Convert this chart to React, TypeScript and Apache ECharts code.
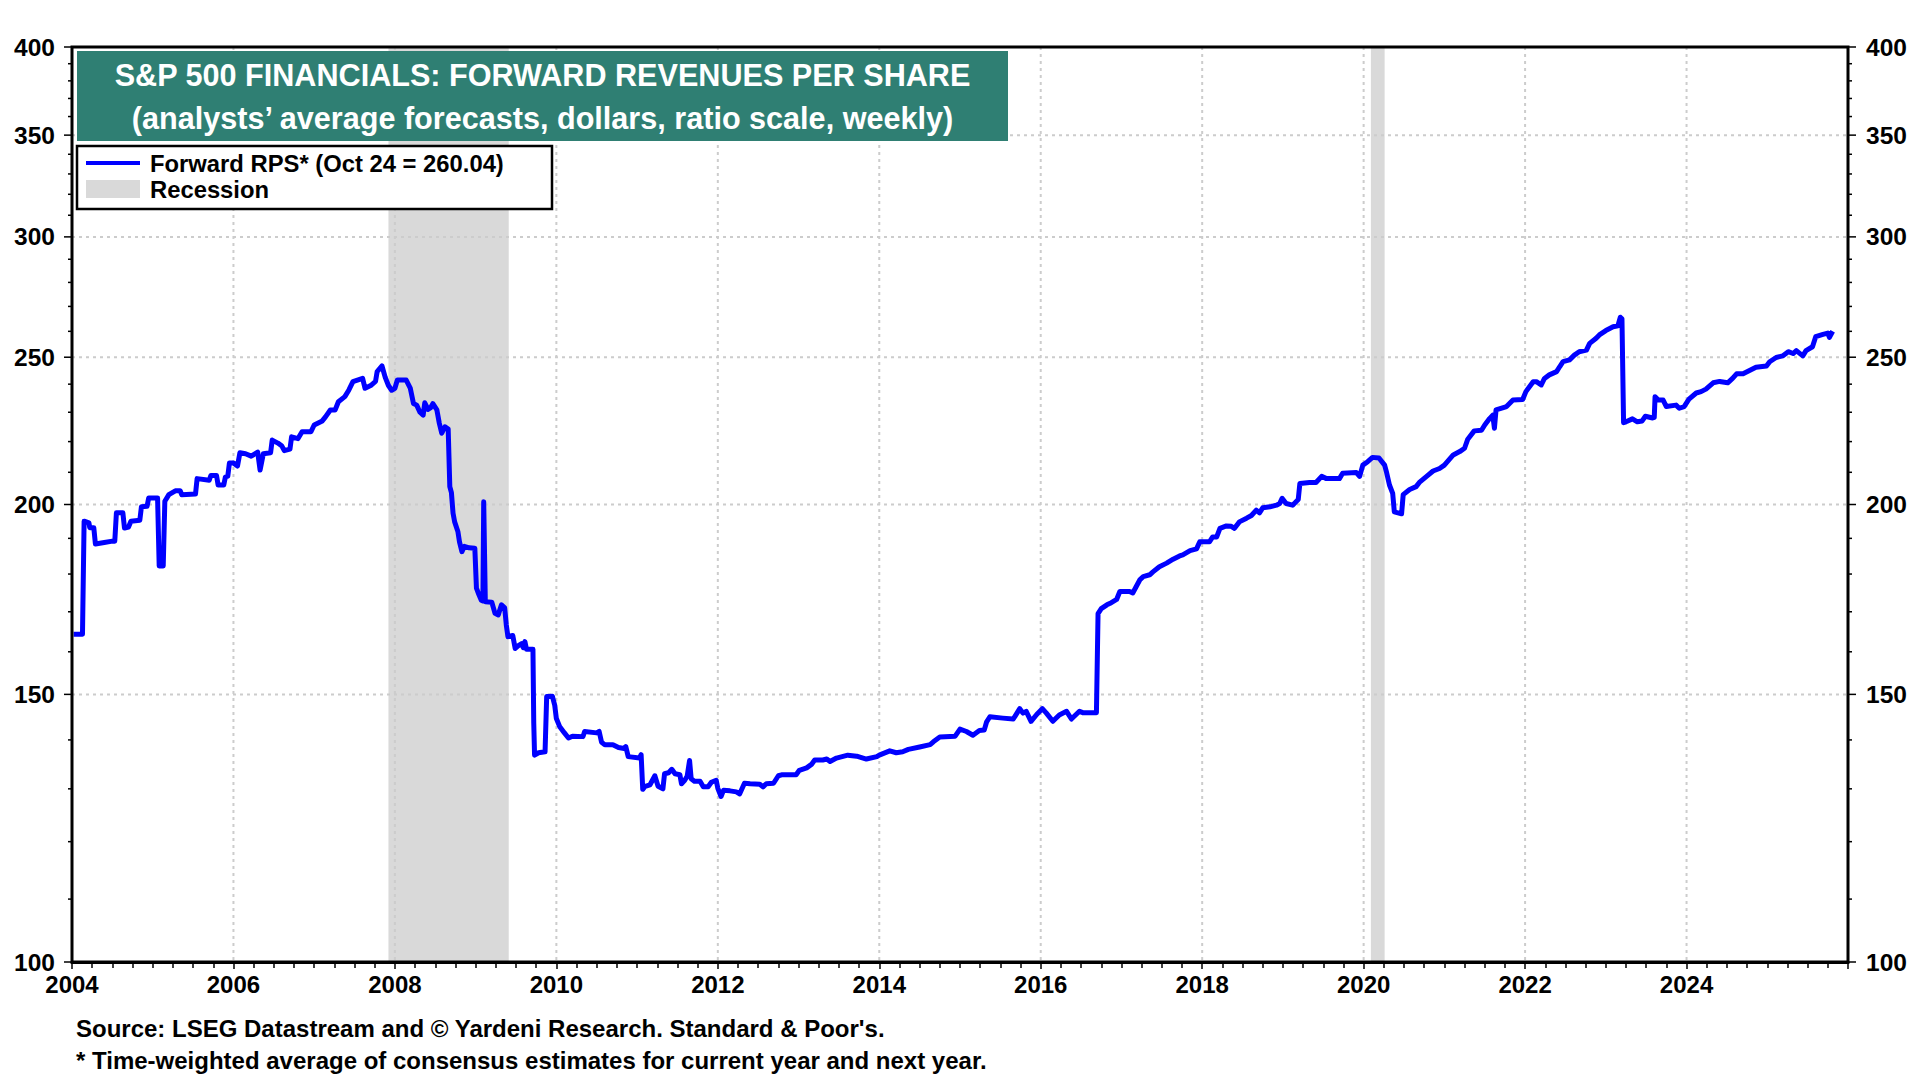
import React, { useEffect, useRef } from "react";
import * as echarts from "echarts";

// ---------- data (x = decimal year of the weekly observation, y = forward RPS in dollars) ----------
const rps2004to2007: [number, number][] = [
  [2004.02, 164.3], [2004.13, 164.3], [2004.15, 195.0], [2004.21, 194.5], [2004.22, 193.1], [2004.27, 193.1],
  [2004.29, 188.4], [2004.4, 188.8], [2004.5, 189.2], [2004.53, 189.2], [2004.55, 197.5], [2004.63, 197.5],
  [2004.65, 193.0], [2004.7, 193.3], [2004.73, 195.0], [2004.84, 195.3], [2004.86, 199.3], [2004.93, 199.5],
  [2004.95, 202.0], [2005.06, 202.0], [2005.08, 182.2], [2005.13, 182.2], [2005.15, 201.0], [2005.2, 203.0],
  [2005.28, 204.2], [2005.34, 204.2], [2005.36, 203.0], [2005.53, 203.2], [2005.55, 208.0], [2005.7, 207.5],
  [2005.72, 209.0], [2005.79, 209.0], [2005.81, 206.0], [2005.88, 206.0], [2005.9, 208.5], [2005.93, 208.8],
  [2005.95, 213.0], [2006.0, 213.0], [2006.05, 212.0], [2006.08, 216.3], [2006.15, 216.0], [2006.22, 215.2],
  [2006.3, 216.5], [2006.33, 210.7], [2006.37, 216.0], [2006.46, 216.3], [2006.48, 220.5], [2006.55, 219.5],
  [2006.6, 218.5], [2006.63, 217.0], [2006.7, 217.5], [2006.72, 221.6], [2006.8, 221.0], [2006.85, 223.3],
  [2006.96, 223.3], [2007.0, 225.6], [2007.1, 227.0], [2007.14, 228.4], [2007.2, 230.8], [2007.26, 230.8],
  [2007.3, 233.7], [2007.38, 235.5], [2007.43, 237.9], [2007.48, 240.9], [2007.6, 242.1], [2007.63, 238.5],
  [2007.7, 239.5], [2007.76, 241.0], [2007.78, 244.6], [2007.84, 246.7], [2007.88, 242.5],
];

const rps2008to2010: [number, number][] = [
  [2007.92, 239.5], [2007.96, 237.8], [2008.0, 238.5], [2008.03, 241.5], [2008.14, 241.5], [2008.19, 238.6],
  [2008.23, 233.1], [2008.27, 232.5], [2008.31, 230.0], [2008.35, 229.0], [2008.37, 233.3], [2008.41, 231.0],
  [2008.44, 231.5], [2008.47, 233.0], [2008.52, 230.8], [2008.55, 226.2], [2008.58, 222.8], [2008.62, 225.0],
  [2008.66, 224.2], [2008.68, 205.5], [2008.7, 203.6], [2008.72, 197.4], [2008.74, 194.8], [2008.78, 192.0],
  [2008.8, 189.0], [2008.83, 186.2], [2008.86, 187.7], [2008.92, 187.3], [2008.99, 187.2], [2009.01, 176.2],
  [2009.04, 174.5], [2009.07, 173.0], [2009.09, 172.8], [2009.1, 200.8], [2009.12, 172.6], [2009.2, 172.5],
  [2009.24, 169.6], [2009.28, 169.2], [2009.32, 171.8], [2009.36, 171.0], [2009.38, 166.6], [2009.4, 163.7],
  [2009.46, 164.0], [2009.49, 160.8], [2009.53, 161.5], [2009.57, 162.0], [2009.59, 161.0], [2009.61, 162.5],
  [2009.63, 160.6], [2009.71, 160.6], [2009.72, 143.6], [2009.73, 136.8], [2009.78, 137.3], [2009.86, 137.5],
  [2009.88, 149.5], [2009.95, 149.6], [2009.98, 147.5], [2010.0, 144.6], [2010.04, 142.9], [2010.1, 141.5],
  [2010.15, 140.4], [2010.2, 140.8], [2010.33, 140.7], [2010.35, 141.8], [2010.5, 141.5], [2010.53, 141.8],
  [2010.56, 139.5], [2010.6, 139.0], [2010.7, 139.0], [2010.77, 138.4], [2010.84, 138.2], [2010.86, 138.6],
  [2010.89, 136.5], [2011.03, 136.2], [2011.05, 136.9],
];

const rps2011to2016: [number, number][] = [
  [2011.07, 129.9], [2011.1, 130.5], [2011.16, 130.8], [2011.22, 132.6], [2011.26, 130.5], [2011.32, 130.0],
  [2011.34, 133.0], [2011.39, 133.2], [2011.43, 133.9], [2011.47, 133.0], [2011.53, 132.8], [2011.55, 131.0],
  [2011.59, 131.7], [2011.62, 132.5], [2011.65, 135.7], [2011.67, 132.0], [2011.71, 131.5], [2011.78, 131.5],
  [2011.82, 130.4], [2011.88, 130.4], [2011.92, 131.3], [2011.98, 131.7], [2012.0, 130.1], [2012.04, 128.5],
  [2012.07, 129.7], [2012.15, 129.6], [2012.23, 129.4], [2012.27, 129.0], [2012.33, 131.1], [2012.4, 131.0],
  [2012.52, 130.9], [2012.56, 130.4], [2012.6, 131.0], [2012.69, 131.1], [2012.75, 132.6], [2012.79, 132.8],
  [2012.97, 132.8], [2013.01, 133.7], [2013.1, 134.2], [2013.16, 134.9], [2013.2, 135.8], [2013.3, 135.8],
  [2013.35, 136.0], [2013.39, 135.5], [2013.47, 136.2], [2013.61, 136.8], [2013.72, 136.6], [2013.84, 136.0],
  [2013.97, 136.5], [2014.0, 136.8], [2014.13, 137.7], [2014.21, 137.3], [2014.29, 137.5], [2014.36, 138.0],
  [2014.5, 138.5], [2014.63, 139.0], [2014.67, 139.6], [2014.75, 140.6], [2014.94, 140.8], [2015.0, 142.3],
  [2015.08, 141.8], [2015.16, 141.0], [2015.24, 142.0], [2015.3, 142.1], [2015.33, 143.9], [2015.37, 145.0],
  [2015.53, 144.7], [2015.66, 144.5], [2015.74, 146.8], [2015.78, 145.8], [2015.82, 146.2], [2015.88, 144.0],
  [2015.95, 145.5], [2016.02, 146.8], [2016.07, 145.8], [2016.15, 144.0], [2016.23, 145.4], [2016.32, 146.2],
  [2016.38, 144.5], [2016.48, 146.2], [2016.52, 145.9], [2016.69, 145.9],
];

const rps2016to2020: [number, number][] = [
  [2016.71, 169.5], [2016.75, 170.8], [2016.82, 171.8], [2016.86, 172.2], [2016.94, 173.2], [2016.98, 175.3],
  [2017.1, 175.3], [2017.14, 174.9], [2017.18, 176.5], [2017.23, 178.5], [2017.27, 179.3], [2017.35, 179.8],
  [2017.39, 180.6], [2017.47, 182.0], [2017.56, 183.0], [2017.64, 184.1], [2017.72, 185.0], [2017.76, 185.3],
  [2017.85, 186.5], [2017.93, 187.0], [2017.97, 189.0], [2018.09, 189.0], [2018.13, 190.4], [2018.18, 190.4],
  [2018.22, 192.9], [2018.3, 193.6], [2018.36, 193.5], [2018.4, 192.9], [2018.46, 194.8], [2018.55, 195.9],
  [2018.61, 196.7], [2018.67, 198.3], [2018.71, 197.5], [2018.75, 199.0], [2018.84, 199.3], [2018.92, 199.8],
  [2018.96, 200.3], [2018.99, 201.9], [2019.04, 200.3], [2019.12, 199.8], [2019.19, 201.5], [2019.21, 206.5],
  [2019.33, 206.8], [2019.41, 206.8], [2019.48, 208.7], [2019.54, 208.0], [2019.7, 208.0], [2019.74, 209.7],
  [2019.91, 209.9], [2019.95, 208.7], [2019.99, 212.3], [2020.05, 213.4], [2020.11, 214.8], [2020.19, 214.6],
  [2020.26, 212.3], [2020.28, 210.4], [2020.32, 206.0], [2020.36, 203.4], [2020.38, 197.8], [2020.47, 197.2],
  [2020.49, 203.0],
];

const rps2020to2025: [number, number][] = [
  [2020.57, 204.6], [2020.65, 205.5], [2020.69, 206.8], [2020.78, 208.7], [2020.86, 210.4], [2020.94, 211.2],
  [2021.0, 212.3], [2021.11, 215.6], [2021.19, 216.7], [2021.25, 217.8], [2021.29, 220.8], [2021.37, 223.6],
  [2021.46, 223.8], [2021.5, 225.6], [2021.56, 227.8], [2021.6, 229.0], [2021.62, 224.5], [2021.64, 230.8],
  [2021.77, 232.0], [2021.85, 234.3], [2021.97, 234.5], [2022.01, 237.3], [2022.1, 240.9], [2022.14, 240.9],
  [2022.2, 239.7], [2022.24, 242.1], [2022.3, 243.4], [2022.39, 244.6], [2022.43, 246.5], [2022.47, 248.3],
  [2022.55, 249.0], [2022.61, 250.8], [2022.67, 252.1], [2022.76, 252.7], [2022.8, 255.3], [2022.88, 257.3],
  [2022.92, 258.6], [2023.0, 260.3], [2023.09, 261.8], [2023.15, 262.2], [2023.18, 265.6], [2023.2, 265.0],
  [2023.22, 226.4], [2023.25, 226.7], [2023.33, 227.7], [2023.39, 226.7], [2023.45, 227.0], [2023.49, 228.6],
  [2023.58, 228.0], [2023.6, 228.2], [2023.61, 235.5], [2023.65, 234.3], [2023.71, 234.3], [2023.75, 232.0],
  [2023.87, 232.5], [2023.91, 231.4], [2023.97, 232.0], [2024.03, 234.6], [2024.12, 236.8], [2024.18, 237.3],
  [2024.24, 238.2], [2024.33, 240.5], [2024.41, 241.0], [2024.51, 240.5], [2024.57, 242.1], [2024.62, 243.8],
  [2024.7, 243.8], [2024.78, 245.0], [2024.86, 246.2], [2024.99, 246.7], [2025.03, 248.3], [2025.11, 249.9],
  [2025.19, 250.5], [2025.26, 252.1], [2025.32, 251.4], [2025.36, 252.5], [2025.44, 250.5], [2025.48, 252.5],
  [2025.56, 254.0], [2025.6, 257.9], [2025.69, 258.8], [2025.75, 259.3], [2025.77, 257.6], [2025.81, 260.04],
];

const recessions: [number, number][] = [
  [2007.92, 2009.41],
  [2020.09, 2020.26],
];

const yTickValues: number[] = [100, 110, 120, 130, 140, 150, 160, 170, 180, 190, 200, 210, 220, 230, 240, 250,
  260, 270, 280, 290, 300, 310, 320, 330, 340, 350, 360, 370, 380, 390, 400];
const yLabelValues: number[] = [100, 150, 200, 250, 300, 350, 400];
const yGridValues: number[] = [150, 200, 250, 300, 350];
const xGridYears: number[] = [2006, 2008, 2010, 2012, 2014, 2016, 2018, 2020, 2022, 2024];

const X_MIN = 2004;
const X_MAX = 2026;
const Y_MIN = 100;
const Y_MAX = 400;

const TITLE_1 = "S&P 500 FINANCIALS: FORWARD REVENUES PER SHARE";
const TITLE_2 = "(analysts\u2019 average forecasts, dollars, ratio scale, weekly)";
const LEGEND_LINE = "Forward RPS* (Oct 24 = 260.04)";
const LEGEND_RECESSION = "Recession";
const SOURCE_1 = "Source: LSEG Datastream and \u00A9 Yardeni Research. Standard & Poor's.";
const SOURCE_2 = "* Time-weighted average of consensus estimates for current year and next year.";

const FAMILY = '"Liberation Sans", Arial, Helvetica, sans-serif';
const font = (size: number) => `bold ${size}px ${FAMILY}`;

const GRID_COLOR = "#cccccc";
const RECESSION_COLOR = "#d9d9d9";
const LINE_COLOR = "#0000ff";
const TEAL = "#2f7f73";

export default function App() {
  const ref = useRef<HTMLDivElement>(null);

  useEffect(() => {
    if (!ref.current) return;
    const chart = echarts.init(ref.current, undefined, { renderer: "svg" });

    const series = [
      ...rps2004to2007,
      ...rps2008to2010,
      ...rps2011to2016,
      ...rps2016to2020,
      ...rps2020to2025,
    ];

    const option: any = {
      animation: false,
      backgroundColor: "#ffffff",
      grid: {
        left: 72,
        right: 72,
        top: 47,
        bottom: 118,
        show: true,
        borderColor: "#000",
        borderWidth: 3,
        backgroundColor: "transparent",
        z: 10,
      },
      xAxis: {
        type: "value",
        min: X_MIN,
        max: X_MAX,
        interval: 2,
        axisLine: { show: true, lineStyle: { color: "#000", width: 3 } },
        axisTick: { show: true, length: 7, lineStyle: { color: "#000", width: 1.5 } },
        minorTick: { show: true, splitNumber: 8, length: 6, lineStyle: { color: "#000", width: 1.5 } },
        splitLine: { show: false },
        minorSplitLine: { show: false },
        axisLabel: {
          show: true,
          margin: 10,
          showMinLabel: true,
          showMaxLabel: true,
          color: "#000",
          fontFamily: FAMILY,
          fontWeight: "bold",
          fontSize: 24,
          formatter: (v: number) => (v === X_MAX ? "" : String(v)),
        },
      },
      yAxis: {
        type: "log",
        logBase: 10,
        min: Y_MIN,
        max: Y_MAX,
        axisLine: { show: false },
        axisTick: { show: false },
        axisLabel: { show: false },
        splitLine: { show: false },
      },
      series: [
        {
          name: "Recession",
          type: "custom",
          z: 1,
          silent: true,
          data: recessions.map((r) => [r[0], r[1], Y_MIN]),
          encode: { x: [0, 1], y: 2 },
          renderItem: (params: any, api: any) => {
            const a = api.coord([api.value(0), Y_MAX]);
            const b = api.coord([api.value(1), Y_MIN]);
            return {
              type: "rect",
              shape: { x: a[0], y: a[1], width: b[0] - a[0], height: b[1] - a[1] },
              style: { fill: RECESSION_COLOR },
            };
          },
        },
        {
          name: "xgrid",
          type: "custom",
          z: 2,
          silent: true,
          data: xGridYears.map((y) => [y, Y_MIN]),
          renderItem: (params: any, api: any) => {
            const a = api.coord([api.value(0), Y_MAX]);
            const b = api.coord([api.value(0), Y_MIN]);
            return {
              type: "line",
              shape: { x1: a[0], y1: a[1], x2: b[0], y2: b[1] },
              style: { stroke: GRID_COLOR, lineWidth: 2, lineDash: [3, 4] },
            };
          },
        },
        {
          name: "ygrid",
          type: "custom",
          z: 2,
          silent: true,
          data: yGridValues.map((v) => [X_MIN, v]),
          renderItem: (params: any, api: any) => {
            const a = api.coord([X_MIN, api.value(1)]);
            const b = api.coord([X_MAX, api.value(1)]);
            return {
              type: "line",
              shape: { x1: a[0], y1: a[1], x2: b[0], y2: b[1] },
              style: { stroke: GRID_COLOR, lineWidth: 2, lineDash: [3, 4] },
            };
          },
        },
        {
          name: "Forward RPS",
          type: "line",
          z: 5,
          data: series,
          showSymbol: false,
          symbol: "none",
          lineStyle: { color: LINE_COLOR, width: 5, join: "round" },
          emphasis: { disabled: true },
        },
        {
          name: "yticks",
          type: "custom",
          z: 12,
          silent: true,
          clip: false,
          data: yTickValues.map((v) => [X_MIN, v]),
          renderItem: (params: any, api: any) => {
            const v = api.value(1);
            const L = api.coord([X_MIN, v]);
            const R = api.coord([X_MAX, v]);
            const major = yLabelValues.indexOf(v) >= 0;
            const len = major ? 8 : 4;
            const children: any[] = [
              { type: "line", shape: { x1: L[0] - len, y1: L[1], x2: L[0], y2: L[1] }, style: { stroke: "#000", lineWidth: 1.5 } },
              { type: "line", shape: { x1: R[0], y1: R[1], x2: R[0] + len, y2: R[1] }, style: { stroke: "#000", lineWidth: 1.5 } },
            ];
            if (major) {
              children.push({
                type: "text",
                x: L[0] - 17,
                y: L[1],
                style: { text: String(v), fill: "#000", font: font(24.5), align: "right", verticalAlign: "middle" },
              });
              children.push({
                type: "text",
                x: R[0] + 18,
                y: R[1],
                style: { text: String(v), fill: "#000", font: font(24.5), align: "left", verticalAlign: "middle" },
              });
            }
            return { type: "group", children };
          },
        },
      ],
      graphic: [
        {
          type: "rect",
          z: 100,
          shape: { x: 77, y: 51, width: 931, height: 90 },
          style: { fill: TEAL },
        },
        {
          type: "text",
          z: 101,
          x: 542.5,
          y: 74.5,
          style: { text: TITLE_1, fill: "#fff", font: font(30.6), textAlign: "center", textVerticalAlign: "middle", align: "center", verticalAlign: "middle" },
        },
        {
          type: "text",
          z: 101,
          x: 542.5,
          y: 117.5,
          style: { text: TITLE_2, fill: "#fff", font: font(30.6), textAlign: "center", textVerticalAlign: "middle", align: "center", verticalAlign: "middle" },
        },
        {
          type: "rect",
          z: 100,
          shape: { x: 77, y: 146, width: 475, height: 63 },
          style: { fill: "#fff", stroke: "#000", lineWidth: 2.5 },
        },
        {
          type: "line",
          z: 101,
          shape: { x1: 86, y1: 163, x2: 140, y2: 163 },
          style: { stroke: LINE_COLOR, lineWidth: 4 },
        },
        {
          type: "rect",
          z: 101,
          shape: { x: 86, y: 180, width: 54, height: 18 },
          style: { fill: RECESSION_COLOR },
        },
        {
          type: "text",
          z: 101,
          x: 150,
          y: 163,
          style: { text: LEGEND_LINE, fill: "#000", font: font(23.8), textAlign: "left", textVerticalAlign: "middle", align: "left", verticalAlign: "middle" },
        },
        {
          type: "text",
          z: 101,
          x: 150,
          y: 189,
          style: { text: LEGEND_RECESSION, fill: "#000", font: font(23.8), textAlign: "left", textVerticalAlign: "middle", align: "left", verticalAlign: "middle" },
        },
        {
          type: "text",
          z: 101,
          x: 76,
          y: 1028,
          style: { text: SOURCE_1, fill: "#000", font: font(24), textAlign: "left", textVerticalAlign: "middle", align: "left", verticalAlign: "middle" },
        },
        {
          type: "text",
          z: 101,
          x: 76,
          y: 1060,
          style: { text: SOURCE_2, fill: "#000", font: font(24), textAlign: "left", textVerticalAlign: "middle", align: "left", verticalAlign: "middle" },
        },
      ],
    };

    chart.setOption(option);
    return () => {
      chart.dispose();
    };
  }, []);

  return (
    <div
      ref={ref}
      style={{ position: "fixed", left: 0, top: 0, width: 1920, height: 1080, background: "#fff" }}
    />
  );
}
